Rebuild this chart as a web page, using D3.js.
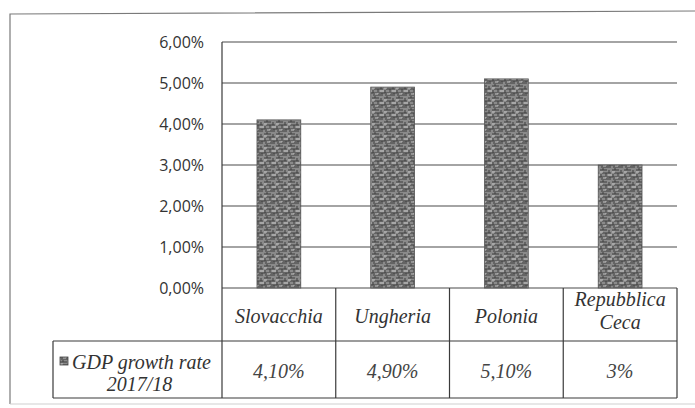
<!DOCTYPE html>
<html>
<head>
<meta charset="utf-8">
<script src="https://cdn.jsdelivr.net/npm/d3@7"></script>
<style>
  html, body { margin: 0; padding: 0; background: #fff; }
  svg { display: block; }
</style>
</head>
<body>
<svg id="chart" width="695" height="408"></svg>
<script>
// ---- data ----
const categories = ["Slovacchia", "Ungheria", "Polonia", "Repubblica Ceca"];
const categoryLines = [["Slovacchia"], ["Ungheria"], ["Polonia"], ["Repubblica", "Ceca"]];
const values = [4.1, 4.9, 5.1, 3.0];
const valueLabels = ["4,10%", "4,90%", "5,10%", "3%"];
const yTicks = [0, 1, 2, 3, 4, 5, 6];
const yTickLabels = ["0,00%", "1,00%", "2,00%", "3,00%", "4,00%", "5,00%", "6,00%"];
const seriesLines = ["GDP growth rate", "2017/18"];

// ---- layout ----
const svg = d3.select("#chart");
const plotLeft = 222, plotRight = 677, plotTop = 42, plotBottom = 288;
const row1Bottom = 341, row2Bottom = 398, legendLeft = 53;

const x = d3.scaleBand().domain(categories).range([plotLeft, plotRight]).padding(0);
const y = d3.scaleLinear().domain([0, 6]).range([plotBottom, plotTop]);
const barW = x.bandwidth() * 0.385;

// texture pattern for bars
const defs = svg.append("defs");
const pat = defs.append("pattern").attr("id", "tex").attr("patternUnits", "userSpaceOnUse")
  .attr("width", 12).attr("height", 12);
pat.append("rect").attr("width", 12).attr("height", 12).attr("fill", "#8a8a8a");
pat.append("path").attr("d", "M0,2h7M2,5h9M0,9h5M7,9h5M1,11h8").attr("stroke", "#3e3e3e").attr("stroke-width", 1);
pat.append("path").attr("d", "M3,0v2M9,2v3M6,5v4M1,6v3M10,9v3").attr("stroke", "#3e3e3e").attr("stroke-width", 1);
pat.append("path").attr("d", "M0,4h3M8,7h4M3,10h3").attr("stroke", "#c4c4c4").attr("stroke-width", 1);

// outer border
svg.append("path")
  .attr("d", `M10,404 L10,14 L700,11`)
  .attr("fill", "none").attr("stroke", "#7a7a7a").attr("stroke-width", 1.2);
svg.append("path")
  .attr("d", `M10,404 L700,404`)
  .attr("fill", "none").attr("stroke", "#cfcfcf").attr("stroke-width", 1);

// gridlines
svg.append("g").selectAll("line").data(yTicks).join("line")
  .attr("x1", plotLeft).attr("x2", plotRight)
  .attr("y1", d => y(d)).attr("y2", d => y(d))
  .attr("stroke", "#4a4a4a").attr("stroke-width", 1.1);

// y axis line
svg.append("line").attr("x1", plotLeft).attr("x2", plotLeft)
  .attr("y1", plotTop).attr("y2", plotBottom).attr("stroke", "#3a3a3a").attr("stroke-width", 1.2);

// y tick labels
svg.append("g").selectAll("text").data(yTicks).join("text")
  .attr("x", 204).attr("y", d => y(d)).attr("dy", "0.36em")
  .attr("text-anchor", "end")
  .attr("font-family", "'Open Sans', sans-serif").attr("font-size", 16)
  .attr("fill", "#333")
  .text((d, i) => yTickLabels[i]);

// bars
svg.append("g").selectAll("rect").data(values).join("rect")
  .attr("x", (d, i) => x(categories[i]) + (x.bandwidth() - barW) / 2)
  .attr("width", barW)
  .attr("y", d => y(d))
  .attr("height", d => y(0) - y(d))
  .attr("fill", "url(#tex)")
  .attr("stroke", "#555").attr("stroke-width", 0.8);

// data table
const tbl = svg.append("g").attr("stroke", "#3a3a3a").attr("stroke-width", 1.2);
const bounds = categories.map(c => x(c)).concat([plotRight]);
tbl.selectAll("line.v").data(bounds).join("line")
  .attr("x1", d => d).attr("x2", d => d)
  .attr("y1", plotBottom).attr("y2", row2Bottom);
tbl.append("line").attr("x1", legendLeft).attr("x2", plotRight).attr("y1", row1Bottom).attr("y2", row1Bottom);
tbl.append("line").attr("x1", legendLeft).attr("x2", plotRight).attr("y1", row2Bottom).attr("y2", row2Bottom);
tbl.append("line").attr("x1", legendLeft).attr("x2", legendLeft).attr("y1", row1Bottom).attr("y2", row2Bottom);

const serif = "'Liberation Serif', 'Times New Roman', serif";

// category labels
svg.append("g").selectAll("text").data(categoryLines).join("text")
  .attr("x", (d, i) => x(categories[i]) + x.bandwidth() / 2)
  .attr("y", d => d.length > 1 ? 306 : 323)
  .attr("text-anchor", "middle")
  .attr("font-family", serif).attr("font-style", "italic").attr("font-size", 20)
  .attr("fill", "#333")
  .each(function(d) {
    d3.select(this).selectAll("tspan").data(d).join("tspan")
      .attr("x", d3.select(this).attr("x"))
      .attr("dy", (t, j) => j === 0 ? 0 : 23)
      .text(t => t);
  });

// values row
svg.append("g").selectAll("text").data(valueLabels).join("text")
  .attr("x", (d, i) => x(categories[i]) + x.bandwidth() / 2)
  .attr("y", 378)
  .attr("text-anchor", "middle")
  .attr("font-family", serif).attr("font-style", "italic").attr("font-size", 20)
  .attr("fill", "#444")
  .text(d => d);

// legend cell
const legCx = (legendLeft + plotLeft) / 2 + 5;
svg.append("rect").attr("x", 60).attr("y", 357).attr("width", 8).attr("height", 8)
  .attr("fill", "url(#tex)").attr("stroke", "#444").attr("stroke-width", 0.8);
svg.append("text").attr("x", 72).attr("y", 369)
  .attr("font-family", serif).attr("font-style", "italic").attr("font-size", 20)
  .attr("fill", "#333").text(seriesLines[0]);
svg.append("text").attr("x", legCx - 3).attr("y", 391).attr("text-anchor", "middle")
  .attr("font-family", serif).attr("font-style", "italic").attr("font-size", 20)
  .attr("fill", "#333").text(seriesLines[1]);
</script>
</body>
</html>
